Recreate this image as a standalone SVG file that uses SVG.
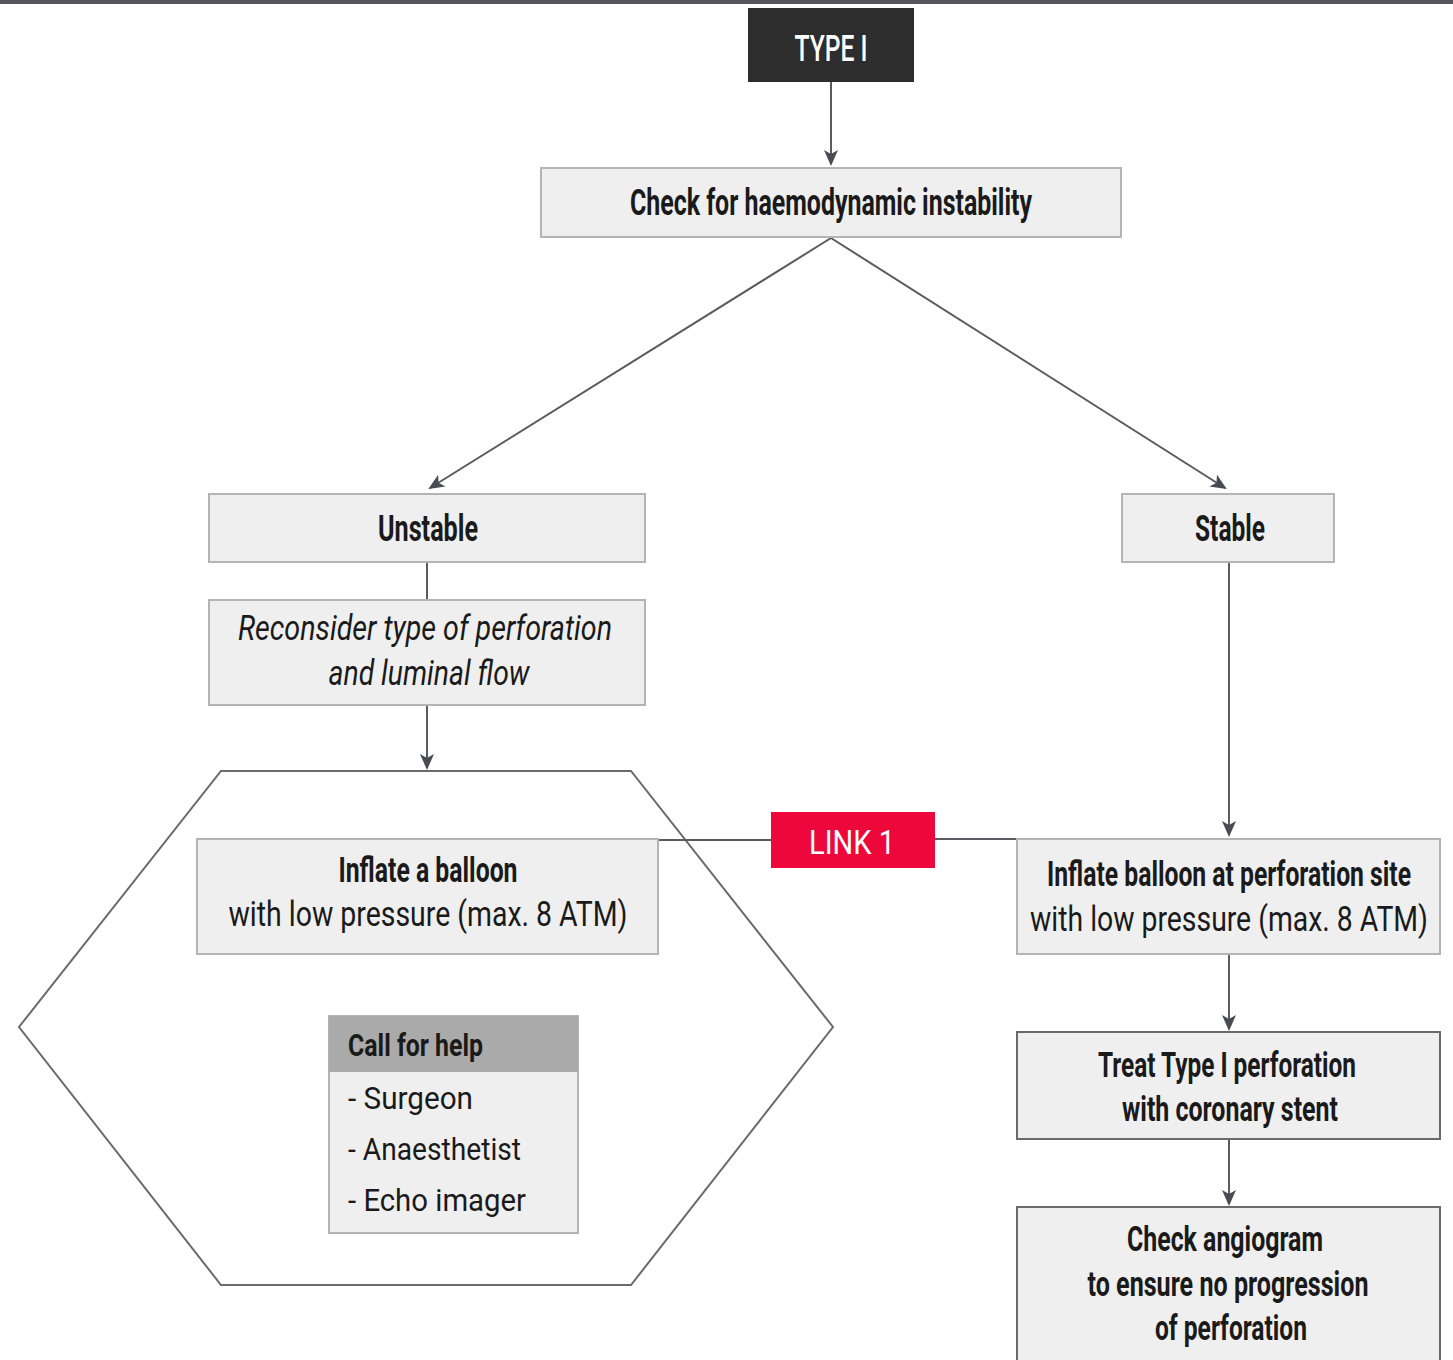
<svg xmlns="http://www.w3.org/2000/svg" width="1453" height="1360" viewBox="0 0 1453 1360">
<defs>
<marker id="ah" markerUnits="userSpaceOnUse" markerWidth="16" markerHeight="18" refX="14" refY="7" orient="auto">
<path d="M0,0 L16,7 L0,14 L4,7 Z" fill="#4a4a52"/>
</marker>
<style>
.box{fill:#efefef;stroke:#b4b4b4;stroke-width:2}
.boxd{fill:#efefef;stroke:#6a6a6a;stroke-width:2}
.conn{fill:none;stroke:#5a5a62;stroke-width:2}
.t{font-family:Roboto,"Liberation Sans",sans-serif;fill:#1a1a1a;text-anchor:middle}
.b{font-weight:bold}
.i{font-style:italic}
.w{fill:#ffffff}
.l{text-anchor:start}
</style>
</defs>
<rect x="0" y="0" width="1453" height="4" fill="#55555f"/>
<g id="hexagon">
<polygon points="221,771 631,771 833,1027 631,1285 221,1285 19,1027" fill="none" stroke="#6a6a6a" stroke-width="2"/>
</g>
<g id="connectors">
<line class="conn" x1="831" y1="82" x2="831" y2="164" marker-end="url(#ah)"/>
<line class="conn" x1="831" y1="238" x2="430" y2="488" marker-end="url(#ah)"/>
<line class="conn" x1="831" y1="238" x2="1225" y2="488" marker-end="url(#ah)"/>
<line class="conn" x1="427" y1="562" x2="427" y2="600"/>
<line class="conn" x1="427" y1="705" x2="427" y2="768" marker-end="url(#ah)"/>
<line class="conn" x1="1229" y1="562" x2="1229" y2="835" marker-end="url(#ah)"/>
<line class="conn" x1="1229" y1="954" x2="1229" y2="1029" marker-end="url(#ah)"/>
<line class="conn" x1="1229" y1="1139" x2="1229" y2="1204" marker-end="url(#ah)"/>
<line class="conn" x1="658" y1="840" x2="771" y2="840"/>
<line class="conn" x1="935" y1="839" x2="1017" y2="839"/>
</g>
<g id="type1">
<rect x="748" y="8" width="166" height="74" fill="#2d2d2d"/>
<text class="t w" x="831" y="61" font-size="36" font-weight="500" textLength="73" lengthAdjust="spacingAndGlyphs">TYPE I</text>
</g>
<g id="check">
<rect class="box" x="541" y="168" width="580" height="69"/>
<text class="t b" x="831" y="215" font-size="36" textLength="402" lengthAdjust="spacingAndGlyphs">Check for haemodynamic instability</text>
</g>
<g id="unstable">
<rect class="box" x="209" y="494" width="436" height="68"/>
<text class="t b" x="428" y="541" font-size="36" textLength="100" lengthAdjust="spacingAndGlyphs">Unstable</text>
</g>
<g id="reconsider">
<rect class="box" x="209" y="600" width="436" height="105"/>
<text class="t i" x="425" y="640" font-size="35" textLength="374" lengthAdjust="spacingAndGlyphs">Reconsider type of perforation</text>
<text class="t i" x="429" y="685" font-size="35" textLength="201" lengthAdjust="spacingAndGlyphs">and luminal flow</text>
</g>
<g id="inflate-left">
<rect class="box" x="197" y="839" width="461" height="115"/>
<text class="t b" x="428" y="882" font-size="35" textLength="179" lengthAdjust="spacingAndGlyphs">Inflate a balloon</text>
<text class="t" x="428" y="926" font-size="35" textLength="399" lengthAdjust="spacingAndGlyphs">with low pressure (max. 8 ATM)</text>
</g>
<g id="call-for-help">
<rect x="329" y="1016" width="249" height="217" fill="#efefef" stroke="#b4b4b4" stroke-width="2"/>
<rect x="329" y="1016" width="249" height="56" fill="#aaaaaa"/>
<text class="t b l" x="348" y="1056" font-size="31" textLength="135" lengthAdjust="spacingAndGlyphs">Call for help</text>
<text class="t l" x="348" y="1109" font-size="32" textLength="125" lengthAdjust="spacingAndGlyphs">- Surgeon</text>
<text class="t l" x="348" y="1160" font-size="32" textLength="173" lengthAdjust="spacingAndGlyphs">- Anaesthetist</text>
<text class="t l" x="348" y="1211" font-size="32" textLength="178" lengthAdjust="spacingAndGlyphs">- Echo imager</text>
</g>
<g id="link1">
<rect x="771" y="812" width="164" height="56" fill="#ee073b"/>
<text class="t w" x="852" y="854" font-size="34" textLength="86" lengthAdjust="spacingAndGlyphs">LINK 1</text>
</g>
<g id="stable">
<rect class="box" x="1122" y="494" width="212" height="68"/>
<text class="t b" x="1230" y="541" font-size="36" textLength="70" lengthAdjust="spacingAndGlyphs">Stable</text>
</g>
<g id="inflate-right">
<rect class="box" x="1017" y="839" width="423" height="115"/>
<text class="t b" x="1229" y="886" font-size="35" textLength="364" lengthAdjust="spacingAndGlyphs">Inflate balloon at perforation site</text>
<text class="t" x="1229" y="931" font-size="35" textLength="398" lengthAdjust="spacingAndGlyphs">with low pressure (max. 8 ATM)</text>
</g>
<g id="treat">
<rect class="boxd" x="1017" y="1032" width="423" height="107"/>
<text class="t b" x="1227" y="1077" font-size="35" textLength="258" lengthAdjust="spacingAndGlyphs">Treat Type I perforation</text>
<text class="t b" x="1230" y="1121" font-size="35" textLength="216" lengthAdjust="spacingAndGlyphs">with coronary stent</text>
</g>
<g id="check-angiogram">
<rect class="boxd" x="1017" y="1207" width="423" height="160"/>
<text class="t b" x="1225" y="1251" font-size="35" textLength="196" lengthAdjust="spacingAndGlyphs">Check angiogram</text>
<text class="t b" x="1228" y="1296" font-size="35" textLength="281" lengthAdjust="spacingAndGlyphs">to ensure no progression</text>
<text class="t b" x="1231" y="1340" font-size="35" textLength="152" lengthAdjust="spacingAndGlyphs">of perforation</text>
</g>
</svg>
